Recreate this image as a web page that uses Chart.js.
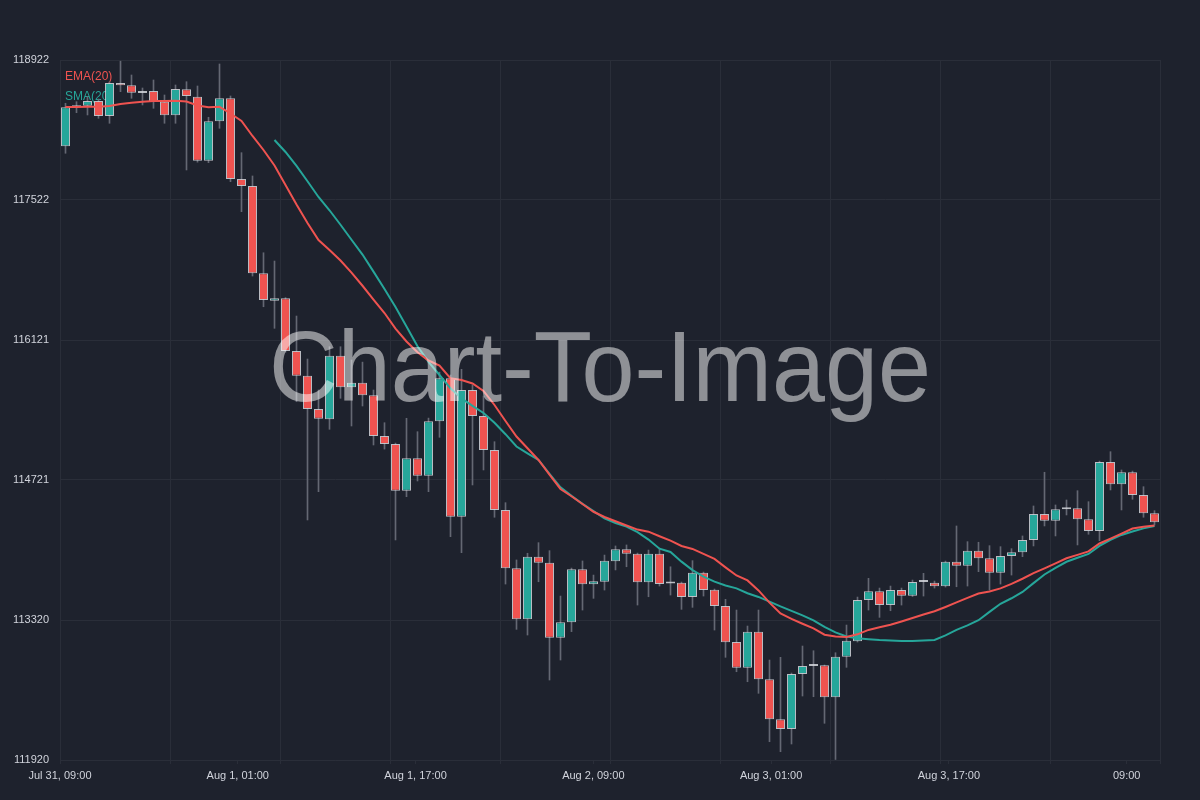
<!DOCTYPE html>
<html>
<head>
<meta charset="utf-8">
<title>Candles with EMA/SMA</title>
<script src="https://cdn.jsdelivr.net/npm/chart.js@4.4.1/dist/chart.umd.min.js"></script>
<style>
  html, body { margin: 0; padding: 0; background: #1e222d; }
  #wrap { width: 1200px; height: 800px; }
</style>
</head>
<body>
<div id="wrap"><canvas id="myChart" width="1200" height="800"></canvas></div>
<script>
// OHLC, one candle per hour
const opens = [
  118059, 118449, 118465, 118512, 118362, 118692, 118669, 118600, 118612, 118505,
  118369, 118629, 118555, 117915, 118309, 118539, 117732, 117662, 116788, 116514,
  116538, 116011, 115764, 115431, 115328, 115964, 115648, 115694, 115568, 115161,
  115081, 114614, 114938, 114764, 115308, 115738, 114354, 115621, 115361, 115021,
  114421, 113837, 113327, 113954, 113894, 113143, 113297, 113827, 113677, 113704,
  113908, 114028, 113984, 113697, 113984, 113700, 113694, 113550, 113793, 113624,
  113460, 113100, 112843, 113203, 112727, 112327, 112230, 112780, 112860, 112867,
  112547, 112953, 113107, 113520, 113607, 113470, 113620, 113563, 113700, 113694,
  113657, 113904, 113864, 114014, 113938, 113794, 113961, 113998, 114121, 114381,
  114314, 114428, 114438, 114328, 114211, 114901, 114678, 114798, 114571, 114388
];
const highs = [
  118489, 118505, 118555, 118532, 118702, 118910, 118772, 118642, 118722, 118572,
  118672, 118705, 118662, 118349, 118882, 118562, 117995, 117762, 116994, 116911,
  116545, 116361, 115931, 115621, 116054, 116054, 115921, 115900, 115621, 115294,
  115090, 115338, 115204, 115340, 115800, 115771, 115828, 115671, 115561, 115104,
  114494, 113921, 113988, 114094, 114014, 113560, 113840, 113911, 113770, 113970,
  114061, 114071, 113990, 114020, 114040, 113853, 113700, 113914, 113800, 113630,
  113527, 113420, 113260, 113420, 112920, 112947, 112790, 113060, 113013, 112870,
  112993, 113270, 113550, 113737, 113640, 113660, 113640, 113720, 113787, 113710,
  113910, 114261, 114104, 114098, 114064, 114054, 114034, 114161, 114461, 114798,
  114471, 114521, 114614, 114504, 114910, 115004, 114821, 114810, 114654, 114414
];
const lows = [
  117989, 118395, 118372, 118339, 118289, 118605, 118539, 118472, 118439, 118289,
  118289, 117822, 117900, 117895, 118239, 117705, 117405, 116761, 116454, 116238,
  116000, 115504, 114321, 114604, 115228, 115538, 115261, 115461, 115071, 115030,
  114121, 114554, 114711, 114604, 115148, 114154, 113994, 114671, 114821, 114348,
  113680, 113227, 113170, 113703, 112720, 112920, 113204, 113420, 113537, 113620,
  113821, 113853, 113470, 113553, 113660, 113570, 113427, 113447, 113560, 113220,
  112947, 112803, 112703, 112587, 112103, 112003, 112080, 112560, 112553, 112287,
  111925, 112847, 113100, 113420, 113347, 113413, 113470, 113555, 113560, 113640,
  113650, 113653, 113660, 113804, 113620, 113680, 113770, 113954, 114061, 114261,
  114161, 114371, 114071, 114178, 114114, 114621, 114421, 114528, 114348, 114271
];
const closes = [
  118449, 118465, 118512, 118362, 118692, 118669, 118595, 118592, 118505, 118369,
  118632, 118562, 117915, 118309, 118539, 117732, 117662, 116788, 116521, 116538,
  116011, 115764, 115431, 115334, 115964, 115648, 115694, 115568, 115161, 115081,
  114614, 114938, 114764, 115308, 115738, 114354, 115621, 115361, 115021, 114421,
  113837, 113327, 113954, 113894, 113143, 113297, 113827, 113677, 113707, 113914,
  114028, 113984, 113697, 113984, 113680, 113685, 113550, 113793, 113620, 113460,
  113097, 112843, 113203, 112727, 112327, 112230, 112780, 112860, 112870, 112547,
  112953, 113113, 113520, 113607, 113470, 113620, 113563, 113700, 113707, 113657,
  113904, 113864, 114014, 113938, 113794, 113961, 113998, 114121, 114381, 114314,
  114428, 114435, 114328, 114211, 114901, 114678, 114798, 114571, 114388, 114298
];

// indicator lines, as drawn in the reference
const ema20 = [
  118452, 118452, 118454, 118455, 118462, 118482, 118495, 118505, 118512, 118512,
  118515, 118507, 118467, 118449, 118454, 118387, 118312, 118162, 118022, 117867,
  117672, 117477, 117292, 117121, 117021, 116916, 116796, 116664, 116526, 116391,
  116236, 116106, 115998, 115916, 115866, 115738, 115721, 115686, 115611, 115471,
  115311, 115156, 115038, 114921, 114775, 114631, 114558, 114481, 114403, 114351,
  114308, 114266, 114225, 114204, 114158, 114114, 114061, 114031, 113982, 113931,
  113847, 113766, 113716, 113616, 113494, 113386, 113331, 113283, 113237, 113173,
  113155, 113151, 113177, 113221, 113247, 113273, 113306, 113341, 113375, 113408,
  113451, 113496, 113541, 113585, 113606, 113637, 113682, 113733, 113789, 113837,
  113887, 113938, 113972, 114007, 114086, 114135, 114185, 114235, 114254, 114266
];
const sma20 = [
  null, null, null, null, null, null, null, null, null, null,
  null, null, null, null, null, null, null, null, null, 118122,
  118002, 117862, 117709, 117552, 117419, 117274, 117124, 116976, 116805, 116631,
  116451, 116257, 116059, 115903, 115771, 115638, 115537, 115462, 115391, 115293,
  115179, 115056, 114988, 114921, 114783, 114648, 114562, 114482, 114409, 114336,
  114291, 114255, 114200, 114125, 114034, 114001, 113904, 113819, 113754, 113704,
  113665, 113637, 113588, 113551, 113504, 113456, 113411, 113366, 113317, 113251,
  113197, 113156, 113138, 113129, 113121, 113116, 113111, 113111, 113115, 113121,
  113166, 113221, 113266, 113318, 113402, 113483, 113538, 113601, 113689, 113776,
  113842, 113903, 113943, 113981, 114061, 114121, 114171, 114205, 114237, 114261
];

// axis ticks
const xTickHours = [0, 16, 32, 48, 64, 80, 96];
const xTickLabels = ['Jul 31, 09:00', 'Aug 1, 01:00', 'Aug 1, 17:00', 'Aug 2, 09:00', 'Aug 3, 01:00', 'Aug 3, 17:00', '09:00'];
const yTickValues = [111920, 113320.4, 114720.8, 116121.2, 117521.6, 118922];
const yTickLabels = ['111920', '113320', '114721', '116121', '117522', '118922'];

const UP = '#26a69a';
const DOWN = '#ef5350';
const BG = '#1e222d';
const GRID = '#2a2e39';
const TEXT = '#d1d4dc';
const FONT = "'Liberation Sans', Arial, Helvetica, sans-serif";

Chart.defaults.font.family = FONT;

// hourly category labels (hidden, the label axis below shows the times)
const start = new Date(2025, 6, 31, 9);
const candleLabels = opens.map((_, i) => {
    const d = new Date(start.getTime() + i * 3600000);
    return d.toLocaleString('en-US', { month: 'short', day: 'numeric', hour: '2-digit', minute: '2-digit', hour12: false });
});

const bodyData = opens.map((o, i) => [o, closes[i]]);
const bodyColors = opens.map((o, i) => closes[i] >= o ? UP : DOWN);
const wickData = lows.map((l, i) => [l, highs[i]]);

const backgroundPlugin = {
    id: 'bg',
    beforeDraw(chart) {
        const ctx = chart.ctx;
        ctx.save();
        ctx.fillStyle = BG;
        ctx.fillRect(0, 0, chart.width, chart.height);
        ctx.restore();
    }
};

// legend text sits under the candles in the reference
const legendPlugin = {
    id: 'textLegend',
    beforeDatasetsDraw(chart) {
        const ctx = chart.ctx;
        const x = chart.chartArea.left + 5;
        const y = chart.chartArea.top + 20;
        ctx.save();
        ctx.font = '12px ' + FONT;
        ctx.textBaseline = 'alphabetic';
        ctx.fillStyle = DOWN;
        ctx.fillText('EMA(20)', x, y);
        ctx.fillStyle = UP;
        ctx.fillText('SMA(20)', x, y + 20);
        ctx.restore();
    }
};

const watermarkPlugin = {
    id: 'watermark',
    afterDatasetsDraw(chart) {
        const ctx = chart.ctx;
        const text = 'Chart-To-Image';
        ctx.save();
        ctx.font = '100px ' + FONT;
        const w = ctx.measureText(text).width;
        ctx.translate(600, 401);
        ctx.scale(662 / w, 1);
        ctx.textAlign = 'center';
        ctx.textBaseline = 'alphabetic';
        ctx.fillStyle = 'rgba(255, 255, 255, 0.5)';
        ctx.fillText(text, 0, 0);
        ctx.restore();
    }
};

const canvas = document.getElementById('myChart');
new Chart(canvas.getContext('2d'), {
    data: {
        labels: candleLabels,
        datasets: [
            {
                type: 'line',
                label: 'EMA(20)',
                data: ema20,
                borderColor: DOWN,
                borderWidth: 2,
                pointRadius: 0,
                tension: 0,
                fill: false
            },
            {
                type: 'line',
                label: 'SMA(20)',
                data: sma20,
                borderColor: UP,
                borderWidth: 2,
                pointRadius: 0,
                tension: 0,
                fill: false
            },
            {
                type: 'bar',
                label: 'body',
                data: bodyData,
                backgroundColor: bodyColors,
                borderColor: 'rgba(214, 216, 222, 0.85)',
                borderWidth: 1,
                borderSkipped: false,
                grouped: false,
                categoryPercentage: 1,
                barPercentage: 0.82,
                minBarLength: 2
            },
            {
                type: 'bar',
                label: 'wick',
                data: wickData,
                backgroundColor: '#646873',
                borderWidth: 0,
                grouped: false,
                barThickness: 1
            }
        ]
    },
    options: {
        responsive: false,
        animation: false,
        devicePixelRatio: 1,
        layout: { padding: { top: 60, right: 40, left: 0, bottom: 0 } },
        plugins: {
            legend: { display: false },
            tooltip: { enabled: false }
        },
        scales: {
            x: {
                type: 'category',
                position: 'bottom',
                weight: 0,
                offset: true,
                ticks: { display: false },
                grid: {
                    offset: true,
                    color: (c) => (c.index === undefined || c.index % 10 === 0) ? GRID : 'rgba(0,0,0,0)',
                    drawTicks: true,
                    tickLength: 4
                },
                border: { display: true, color: GRID },
                afterFit: (s) => { s.height = 0; }
            },
            xTime: {
                type: 'linear',
                position: 'bottom',
                weight: 1,
                min: 0,
                max: 99,
                afterBuildTicks: (s) => { s.ticks = xTickHours.map(v => ({ value: v })); },
                ticks: {
                    autoSkip: false,
                    maxRotation: 0,
                    color: TEXT,
                    font: { size: 11 },
                    padding: 5,
                    callback: (v, i) => xTickLabels[i]
                },
                grid: { drawOnChartArea: false, color: GRID, tickLength: 4 },
                border: { display: false },
                afterFit: (s) => { s.height = 40; }
            },
            y: {
                type: 'linear',
                position: 'left',
                min: 111920,
                max: 118922,
                afterBuildTicks: (s) => { s.ticks = yTickValues.map(v => ({ value: v })); },
                ticks: {
                    color: TEXT,
                    font: { size: 11 },
                    padding: 11,
                    callback: (v, i) => yTickLabels[i]
                },
                grid: { color: GRID, drawTicks: false },
                border: { display: true, color: GRID },
                afterFit: (s) => { s.width = 60; }
            }
        }
    },
    plugins: [backgroundPlugin, legendPlugin, watermarkPlugin]
});
</script>
</body>
</html>
